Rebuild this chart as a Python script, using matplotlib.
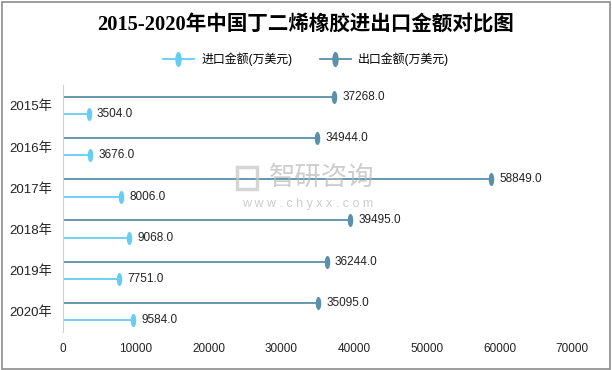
import numpy as np
import matplotlib
matplotlib.use('Agg')
import matplotlib.pyplot as plt
from matplotlib.path import Path
from matplotlib.patches import Rectangle
from matplotlib.lines import Line2D
from matplotlib.legend_handler import HandlerLine2D

plt.rcParams['font.family'] = ['Liberation Sans', 'Noto Sans CJK SC', 'DejaVu Sans']

years = ['2015年', '2016年', '2017年', '2018年', '2019年', '2020年']
import_vals = [3504.0, 3676.0, 8006.0, 9068.0, 7751.0, 9584.0]
export_vals = [37268.0, 34944.0, 58849.0, 39495.0, 36244.0, 35095.0]
x_ticks = [0, 10000, 20000, 30000, 40000, 50000, 60000, 70000]

IMP_COLOR = '#66CDF6'
EXP_COLOR = '#5A90A9'

# tall ellipse marker
circ = Path.unit_circle()
ellipse = Path(circ.vertices * np.array([0.42, 1.0]), circ.codes)


class EndMarker(HandlerLine2D):
    # legend line with the marker sitting on its right end
    def get_xdata(self, legend, xdescent, ydescent, width, height, fontsize):
        return [-xdescent, -xdescent + width], [-xdescent + width]


fig = plt.figure(figsize=(6.12, 3.70), dpi=100)
fig.patches.append(Rectangle((0.004, 0.004), 0.992, 0.990, transform=fig.transFigure,
                             fill=False, edgecolor='#8c8c8c', linewidth=1.2))
ax = fig.add_axes([0.103, 0.103, 0.832, 0.667])

pos = np.arange(len(years))
off = 0.21
for i in pos:
    ax.plot([0, export_vals[i]], [i - off, i - off], color=EXP_COLOR, lw=1.3, zorder=2)
    ax.plot([0, import_vals[i]], [i + off, i + off], color=IMP_COLOR, lw=1.3, zorder=2)
ax.scatter(export_vals, pos - off, marker=ellipse, s=90, color=EXP_COLOR, zorder=3, linewidths=0)
ax.scatter(import_vals, pos + off, marker=ellipse, s=90, color=IMP_COLOR, zorder=3, linewidths=0)

for i in pos:
    ax.annotate(f'{export_vals[i]:.1f}', (export_vals[i], i - off), xytext=(6, 0),
                textcoords='offset points', va='center', ha='left', fontsize=8.5, color='#222222')
    ax.annotate(f'{import_vals[i]:.1f}', (import_vals[i], i + off), xytext=(6, 0),
                textcoords='offset points', va='center', ha='left', fontsize=8.5, color='#222222')

ax.set_xlim(0, 70000)
ax.set_ylim(len(years) - 0.5, -0.5)
ax.set_xticks(x_ticks)
ax.set_xticklabels([str(t) for t in x_ticks], fontsize=8.5, color='#222222')
ax.set_yticks(pos)
ax.set_yticklabels(years, fontsize=9.5, color='#222222')
ax.tick_params(axis='x', length=0, pad=8)
ax.tick_params(axis='y', length=0, pad=8)
for s in ['top', 'right', 'bottom']:
    ax.spines[s].set_visible(False)
ax.spines['left'].set_color('#d0d0d0')

# watermark
fig.patches.append(Rectangle((0.388, 0.49), 0.032, 0.06, transform=fig.transFigure,
                             fill=False, edgecolor='#c4c4c4', linewidth=2.5, alpha=0.7))
fig.text(0.525, 0.52, '智研咨询', fontsize=19, color='#b8b8b8', alpha=0.7,
         ha='center', va='center', family=['Noto Sans CJK SC'])
fig.text(0.503, 0.448, 'w w w . c h y x x . c o m', fontsize=9, color='#b8b8b8', alpha=0.7,
         ha='center', va='center')

fig.text(0.5, 0.932, '2015-2020年中国丁二烯橡胶进出口金额对比图', ha='center', va='center',
         fontsize=14.8, fontweight='bold', family=['Liberation Serif', 'Noto Sans CJK SC'])

handles = [Line2D([0], [0], color=IMP_COLOR, lw=1.3, marker=ellipse, markersize=11,
                  markeredgewidth=0),
           Line2D([0], [0], color=EXP_COLOR, lw=1.3, marker=ellipse, markersize=11,
                  markeredgewidth=0)]
fig.legend(handles, ['进口金额(万美元)', '出口金额(万美元)'], loc='center',
           bbox_to_anchor=(0.5, 0.84), ncol=2, frameon=False, fontsize=8.6,
           handler_map={Line2D: EndMarker()},
           handlelength=2.6, columnspacing=2.3, handletextpad=0.6)

fig.savefig('out.png', dpi=100)
